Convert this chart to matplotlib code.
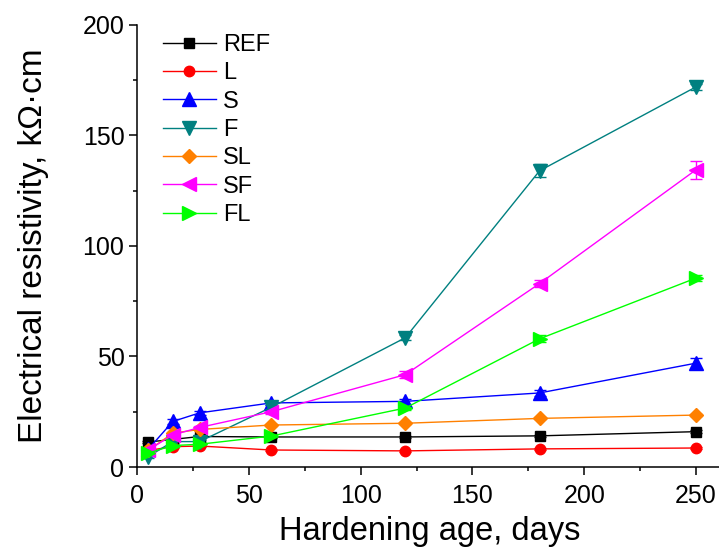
import matplotlib
matplotlib.use('Agg')
import matplotlib.pyplot as plt
from matplotlib.ticker import MultipleLocator

plt.rcParams['font.family'] = ['Liberation Sans', 'DejaVu Sans']

days = [5, 16, 28, 60, 120, 180, 250]

ref = [11.3, 12.5, 13.8, 13.6, 13.6, 14.1, 16.0]
l_mix = [7.5, 9.2, 9.5, 7.7, 7.3, 8.2, 8.6]
s_mix = [8.0, 20.6, 24.5, 29.0, 29.7, 33.5, 47.0]
f_mix = [4.7, 11.5, 11.5, 27.0, 58.5, 134.0, 172.0]
sl_mix = [7.5, 15.3, 17.0, 19.0, 19.8, 22.0, 23.5]
sf_mix = [7.7, 14.5, 17.9, 25.0, 41.8, 83.0, 134.5]
fl_mix = [6.3, 9.7, 10.3, 14.0, 26.7, 58.0, 85.5]

f_err = [0.5, 0.8, 0.8, 1.0, 1.2, 3.0, 1.5]
sf_err = [0.5, 0.8, 0.8, 1.0, 1.5, 1.5, 4.0]
s_err = [0.5, 1.0, 1.0, 1.0, 1.0, 1.5, 2.5]
fl_err = [0.5, 0.8, 0.8, 0.8, 1.0, 1.5, 1.5]
small_err = [0.4, 0.5, 0.5, 0.5, 0.5, 0.5, 0.6]

series = [
    ('REF', ref, small_err, 'black', 's', 7),
    ('L', l_mix, small_err, 'red', 'o', 7.5),
    ('S', s_mix, s_err, 'blue', '^', 9.5),
    ('F', f_mix, f_err, '#008080', 'v', 9.5),
    ('SL', sl_mix, small_err, '#ff8000', 'D', 7.5),
    ('SF', sf_mix, sf_err, 'magenta', '<', 9.5),
    ('FL', fl_mix, fl_err, '#00ff00', '>', 9.5),
]

fig = plt.figure(figsize=(7.19, 5.54), dpi=100)
ax = fig.add_axes([0.1905, 0.157, 0.815, 0.798])

for name, vals, err, col, mk, ms in series:
    ax.errorbar(days, vals, yerr=err, color=col, marker=mk, markersize=ms,
                linewidth=1.0, elinewidth=1.0, capsize=4, capthick=1.0,
                label=name)

ax.set_xlim(0, 262)
ax.set_ylim(0, 200)
ax.xaxis.set_major_locator(MultipleLocator(50))
ax.xaxis.set_minor_locator(MultipleLocator(25))
ax.yaxis.set_major_locator(MultipleLocator(50))
ax.yaxis.set_minor_locator(MultipleLocator(25))
ax.spines['top'].set_visible(False)
ax.spines['right'].set_visible(False)
ax.tick_params(which='major', direction='out', length=6, width=1.1, labelsize=18)
ax.tick_params(axis='x', which='major', pad=6)
ax.tick_params(axis='y', which='major', pad=3)
ax.tick_params(which='minor', direction='out', length=3, width=1.1)
for s in ['left', 'bottom']:
    ax.spines[s].set_linewidth(1.1)

ax.set_xlabel('Hardening age, days', fontsize=23.5, labelpad=6)
ax.set_ylabel('Electrical resistivity, kΩ·cm', fontsize=24, labelpad=24)

handles, labels = ax.get_legend_handles_labels()
handles = [h[0] for h in handles]
ax.legend(handles, labels, loc='upper left', bbox_to_anchor=(0.02, 1.012),
          frameon=False, fontsize=17, numpoints=1, handlelength=2.25,
          labelspacing=0.27, handletextpad=0.3, borderaxespad=0.2)

fig.savefig('out.png', dpi=100)
